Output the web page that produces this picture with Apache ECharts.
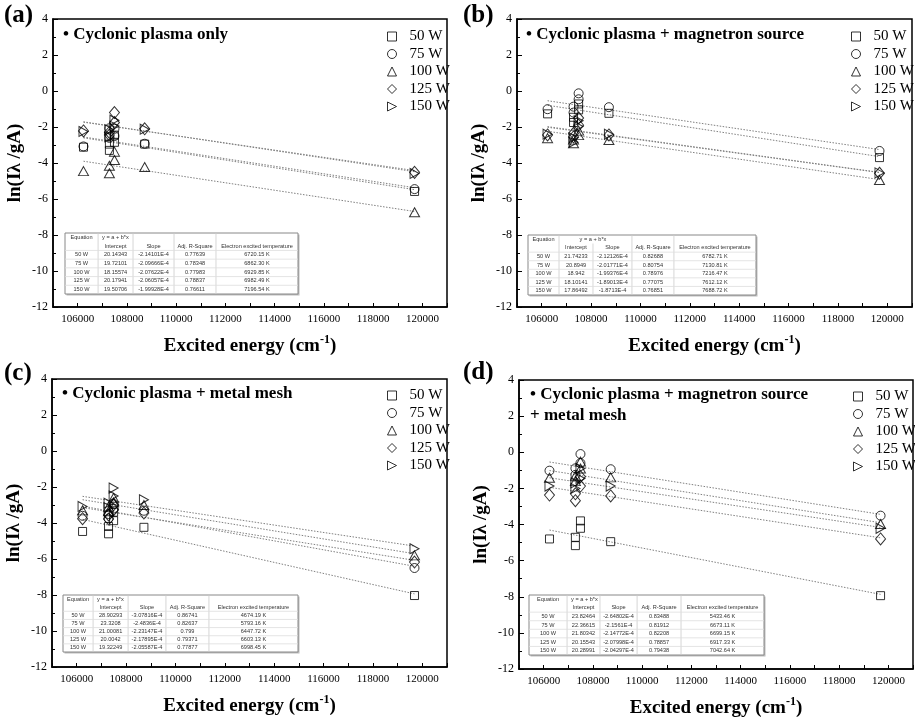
<!DOCTYPE html>
<html>
<head>
<meta charset="utf-8">
<script src="https://cdn.jsdelivr.net/npm/echarts@6/dist/echarts.min.js"></script>
<style>
html, body { margin: 0; padding: 0; background: #fff; }
#main { width: 915px; height: 717px; }
</style>
</head>
<body>
<div id="main"></div>
<script>
// upper level energies of the lines (cm-1), same for every power
var energy = [106238, 107290, 107290, 107496, 107496, 108723, 119683];
var powers = ['50 W', '75 W', '100 W', '125 W', '150 W'];
var fitX = [106238, 119683];
var xTicks = [106000, 108000, 110000, 112000, 114000, 116000, 118000, 120000];

// (a) cyclonic plasma only
var lnA = [
    [-3.12, -2.95, -3.30, -2.45, -2.85, -2.95, -5.58],
    [-3.08, -2.07, -2.60, -2.10, -2.50, -2.93, -5.45],
    [-4.45, -4.15, -4.57, -3.37, -3.83, -4.22, -6.74],
    [-2.22, -2.30, -2.45, -1.20, -1.75, -2.10, -4.52],
    [-2.25, -2.15, -2.55, -1.62, -1.95, -2.12, -4.58]
];
var fitA = [[-2.602, -5.481], [-2.553, -5.373], [-3.901, -6.693], [-1.712, -4.482], [-1.733, -4.421]];
var tableA = [
    ['20.14343', '-2.14101E-4', '0.77639', '6720.15 K'],
    ['19.72101', '-2.09666E-4', '0.78348', '6862.30 K'],
    ['18.15574', '-2.07622E-4', '0.77983', '6929.85 K'],
    ['20.17941', '-2.06057E-4', '0.78837', '6982.49 K'],
    ['19.50706', '-1.99928E-4', '0.76611', '7196.54 K']
];

// (b) cyclonic plasma + magnetron source
var lnB = [
    [-1.27, -1.46, -1.75, -0.72, -1.05, -1.24, -3.70],
    [-1.01, -0.87, -1.20, -0.13, -0.46, -0.90, -3.33],
    [-2.62, -2.90, -2.70, -2.20, -2.45, -2.72, -4.94],
    [-2.44, -2.55, -2.35, -1.50, -1.90, -2.44, -4.57],
    [-2.40, -2.85, -2.60, -1.65, -1.97, -2.40, -4.55]
];
var fitB = [[-0.793, -3.646], [-0.541, -3.254], [-2.239, -4.920], [-1.979, -4.520], [-2.015, -4.531]];
var tableB = [
    ['21.74233', '-2.12126E-4', '0.82688', '6782.71 K'],
    ['20.8949', '-2.01771E-4', '0.80754', '7130.81 K'],
    ['18.942', '-1.99376E-4', '0.78976', '7216.47 K'],
    ['18.10141', '-1.89013E-4', '0.77075', '7612.12 K'],
    ['17.86492', '-1.8713E-4', '0.76851', '7688.72 K']
];

// (c) cyclonic plasma + metal mesh
var lnC = [
    [-4.47, -4.19, -4.60, -3.87, -3.40, -4.24, -8.03],
    [-3.60, -3.75, -3.50, -3.20, -2.95, -3.32, -6.50],
    [-3.30, -3.10, -3.35, -2.85, -2.60, -3.00, -5.80],
    [-3.76, -3.78, -3.55, -3.26, -2.99, -3.45, -6.17],
    [-3.08, -2.90, -3.15, -2.06, -2.50, -2.71, -5.43]
];
var fitC = [[-3.799, -7.937], [-3.064, -6.404], [-2.706, -5.706], [-3.145, -6.074], [-2.519, -5.283]];
var tableC = [
    ['28.90293', '-3.07816E-4', '0.86741', '4674.19 K'],
    ['23.3208', '-2.4836E-4', '0.82637', '5793.16 K'],
    ['21.00081', '-2.23147E-4', '0.799', '6447.72 K'],
    ['20.0042', '-2.17895E-4', '0.79371', '6603.13 K'],
    ['19.32249', '-2.05587E-4', '0.77877', '6998.45 K']
];

// (d) cyclonic plasma + magnetron source + metal mesh
var lnD = [
    [-4.80, -4.71, -5.17, -3.80, -4.21, -4.95, -7.94],
    [-1.02, -0.89, -1.25, -0.10, -0.60, -0.94, -3.51],
    [-1.41, -1.30, -1.60, -0.52, -0.90, -1.39, -3.97],
    [-2.37, -2.68, -2.30, -1.35, -1.87, -2.42, -4.80],
    [-1.87, -2.00, -1.70, -0.90, -1.45, -1.87, -4.21]
];
var fitD = [[-4.307, -7.868], [-0.540, -3.439], [-1.013, -3.901], [-1.942, -4.738], [-1.414, -4.161]];
var tableD = [
    ['23.82464', '-2.64802E-4', '0.83488', '5433.46 K'],
    ['22.36615', '-2.1561E-4', '0.81912', '6673.11 K'],
    ['21.80342', '-2.14772E-4', '0.82208', '6699.15 K'],
    ['20.15543', '-2.07998E-4', '0.78857', '6917.33 K'],
    ['20.28991', '-2.04297E-4', '0.79438', '7042.64 K']
];

var tableHead = ['', 'Intercept', 'Slope', 'Adj. R-Square', 'Electron excited temperature'];

var SERIF = 'Liberation Serif';
var SANS = 'Liberation Sans';
var symbols = ['rect', 'circle', 'triangle', 'diamond', 'path://M0,0L10,5L0,10Z'];
var symSizes = [8, 9, [10, 9], [10, 12], [9, 10]];

var panels = [
    { letter: '(a)', lx: 4, ly: 16, caption: ['\u2022 Cyclonic plasma only'], cx: 63, cy: 35,
      ln: lnA, fit: fitA, table: tableA, grid: [53, 19, 394, 288], legend: [382, 24],
      tbl: [65, 233, 233, 61], cols: [0, .142, .292, .468, .648, 1], span: false },
    { letter: '(b)', lx: 463, ly: 16, caption: ['\u2022 Cyclonic plasma + magnetron source'], cx: 526, cy: 35,
      ln: lnB, fit: fitB, table: tableB, grid: [517, 19, 395, 288], legend: [846, 24],
      tbl: [528, 235, 228, 60], cols: [0, .136, .285, .456, .640, 1], span: true },
    { letter: '(c)', lx: 4, ly: 374, caption: ['\u2022 Cyclonic plasma + metal mesh'], cx: 62, cy: 394,
      ln: lnC, fit: fitC, table: tableC, grid: [52, 379, 395, 288], legend: [382, 383],
      tbl: [63, 595, 235, 57], cols: [0, .128, .277, .438, .621, 1], span: false },
    { letter: '(d)', lx: 463, ly: 373, caption: ['\u2022 Cyclonic plasma + magnetron source', '+ metal mesh'], cx: 530, cy: 395,
      ln: lnD, fit: fitD, table: tableD, grid: [519, 380, 394, 289], legend: [848, 384],
      tbl: [529, 595, 235, 60], cols: [0, .162, .302, .460, .647, 1], span: false }
];

function tableGraphics(p) {
    var els = [];
    var x0 = p.tbl[0], y0 = p.tbl[1], w = p.tbl[2], h = p.tbl[3];
    var rh = h / 7;
    var bx = p.cols.map(function (f) { return x0 + f * w; });
    els.push({ type: 'rect', z: 100, shape: { x: x0 + 1.5, y: y0 + 1.5, width: w, height: h },
        style: { fill: '#bbb' } });
    els.push({ type: 'rect', z: 100, shape: { x: x0, y: y0, width: w, height: h },
        style: { fill: '#fff', stroke: '#888', lineWidth: 1 } });
    for (var i = 1; i < 5; i++) {
        var ys = (p.span && i === 2) ? y0 + rh : y0;
        els.push({ type: 'line', z: 101, shape: { x1: bx[i], y1: ys, x2: bx[i], y2: y0 + h },
            style: { stroke: '#ccc', lineWidth: 0.8 } });
    }
    for (var r = 2; r < 7; r++) {
        els.push({ type: 'line', z: 101, shape: { x1: x0, y1: y0 + r * rh, x2: x0 + w, y2: y0 + r * rh },
            style: { stroke: '#ddd', lineWidth: 0.8 } });
    }
    function txt(s, x, y, align) {
        els.push({ type: 'text', z: 102, x: x, y: y,
            style: { text: s, fontSize: 5.6, fontFamily: SANS, fill: '#333', align: align || 'center', verticalAlign: 'middle' } });
    }
    txt('Equation', (bx[0] + bx[1]) / 2, y0 + rh / 2);
    if (p.span) txt('y = a + b*x', bx[2], y0 + rh / 2);
    else txt('y = a + b*x', bx[1] + 4, y0 + rh / 2, 'left');
    tableHead.forEach(function (s, c) { txt(s, (bx[c] + bx[c + 1]) / 2, y0 + rh * 1.5); });
    p.table.forEach(function (row, r) {
        var yy = y0 + rh * (r + 2.5);
        txt(powers[r], (bx[0] + bx[1]) / 2, yy);
        row.forEach(function (s, c) { txt(s, (bx[c + 1] + bx[c + 2]) / 2, yy); });
    });
    return els;
}

var grids = [], xAxes = [], yAxes = [], series = [], legends = [], graphics = [];
panels.forEach(function (p, k) {
    grids.push({ left: p.grid[0], top: p.grid[1], width: p.grid[2], height: p.grid[3],
        show: true, borderColor: '#000', borderWidth: 1.5, backgroundColor: 'transparent',
        outerBoundsMode: 'none' });
    xAxes.push({ gridIndex: k, type: 'value', min: 105000, max: 121000, interval: 1000,
        name: '{a|Excited energy (cm}{s|-1}{a|)}', nameLocation: 'middle', nameGap: 27,
        nameTextStyle: { rich: {
            a: { fontFamily: SERIF, fontWeight: 'bold', fontSize: 19, color: '#000' },
            s: { fontFamily: SERIF, fontWeight: 'bold', fontSize: 12, color: '#000', padding: [0, 0, 12, 0] } } },
        axisLine: { onZero: false, lineStyle: { color: '#000', width: 1.5 } },
        axisTick: { inside: true, length: 4, lineStyle: { color: '#000' } },
        splitLine: { show: false },
        axisLabel: { fontFamily: SERIF, fontSize: 11, color: '#000', margin: 7,
            formatter: function (v) { return xTicks.indexOf(v) >= 0 ? String(v) : ''; } } });
    yAxes.push({ gridIndex: k, type: 'value', min: -12, max: 4, interval: 2,
        name: 'ln(I\u03bb /gA)', nameLocation: 'middle', nameRotate: 90, nameGap: 28,
        nameTextStyle: { fontFamily: SERIF, fontWeight: 'bold', fontSize: 19, color: '#000' },
        axisLine: { onZero: false, lineStyle: { color: '#000', width: 1.5 } },
        axisTick: { inside: true, length: 5, lineStyle: { color: '#000' } },
        minorTick: { show: true, splitNumber: 2, length: 3, lineStyle: { color: '#000' } },
        splitLine: { show: false },
        axisLabel: { fontFamily: SERIF, fontSize: 12, color: '#000', margin: 5 } });

    powers.forEach(function (name, s) {
        series.push({ type: 'line', name: name + ' fit', xAxisIndex: k, yAxisIndex: k,
            data: [[fitX[0], p.fit[s][0]], [fitX[1], p.fit[s][1]]],
            symbol: 'none', silent: true, z: 1,
            lineStyle: { color: '#808080', width: 1, type: [1.5, 1.5] } });
        series.push({ type: 'scatter', name: name, xAxisIndex: k, yAxisIndex: k,
            data: energy.map(function (e, i) { return [e, p.ln[s][i]]; }),
            symbol: symbols[s], symbolSize: symSizes[s], z: 3,
            itemStyle: { color: 'rgba(0,0,0,0)', borderColor: '#000', borderWidth: 1 },
            emphasis: { disabled: true } });
    });

    legends.push({ data: powers, orient: 'vertical', left: p.legend[0], top: p.legend[1],
        itemWidth: 9, itemHeight: 9, itemGap: 2.5, selectedMode: false,
        itemStyle: { color: 'rgba(0,0,0,0)', borderColor: '#000', borderWidth: 1 },
        textStyle: { fontFamily: SERIF, fontSize: 15, lineHeight: 15, color: '#000', padding: [0, 0, 0, 8] } });

    graphics.push({ type: 'text', x: p.lx, y: p.ly, z: 50,
        style: { text: p.letter, fontFamily: SERIF, fontWeight: 'bold', fontSize: 25, fill: '#000', verticalAlign: 'middle' } });
    p.caption.forEach(function (c, i) {
        graphics.push({ type: 'text', x: p.cx, y: p.cy + i * 21, z: 50,
            style: { text: c, fontFamily: SERIF, fontWeight: 'bold', fontSize: 17, fill: '#000', verticalAlign: 'middle' } });
    });
    graphics = graphics.concat(tableGraphics(p));
});

var chart = echarts.init(document.getElementById('main'));
chart.setOption({
    animation: false,
    backgroundColor: '#fff',
    grid: grids,
    xAxis: xAxes,
    yAxis: yAxes,
    legend: legends,
    series: series,
    graphic: graphics
});
</script>
</body>
</html>
